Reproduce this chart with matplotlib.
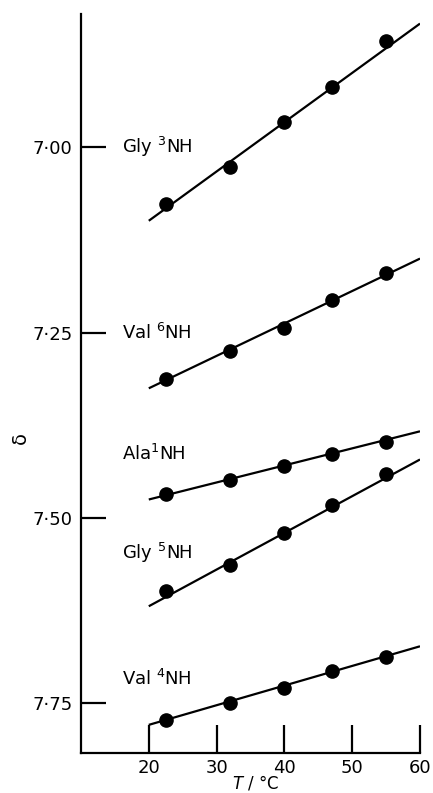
import numpy as np
import matplotlib.pyplot as plt

# temperatures (deg C) of the measured points
temps = [22.5, 32, 40, 47, 55]

# chemical shifts
gly3 = [7.077, 7.026, 6.966, 6.918, 6.857]
val6 = [7.313, 7.275, 7.243, 7.206, 7.170]
ala1 = [7.468, 7.449, 7.430, 7.413, 7.397]
gly5 = [7.599, 7.563, 7.520, 7.483, 7.441]
val4 = [7.772, 7.750, 7.729, 7.706, 7.687]

# fitted lines: shift at T=20 and T=60
line_t = [20, 60]
gly3_fit = [7.099, 6.833]
val6_fit = [7.325, 7.150]
ala1_fit = [7.475, 7.383]
gly5_fit = [7.619, 7.421]
val4_fit = [7.779, 7.673]

names = ['Gly $^{3}$NH', 'Val $^{6}$NH', 'Ala$^{1}$NH', 'Gly $^{5}$NH', 'Val $^{4}$NH']
label_y = [7.00, 7.25, 7.413, 7.547, 7.717]

yticks = [7.00, 7.25, 7.50, 7.75]
ytick_labels = ['7·00', '7·25', '7·50', '7·75']
xticks = [20, 30, 40, 50, 60]

plt.rcParams['font.family'] = ['DejaVu Sans']
plt.rcParams['mathtext.default'] = 'regular'

fig = plt.figure(figsize=(4.33, 7.93), dpi=100)
ax = fig.add_axes([0.187, 0.0504, 0.783, 0.932])

series = [gly3, val6, ala1, gly5, val4]
fits = [gly3_fit, val6_fit, ala1_fit, gly5_fit, val4_fit]
for s, f in zip(series, fits):
    ax.plot(line_t, f, color='black', lw=1.6, solid_capstyle='butt')
    ax.plot(temps, s, 'o', color='black', ms=9.5)

for name, yy in zip(names, label_y):
    ax.text(16, yy, name, fontsize=13, va='center', ha='left')

ax.set_xlim(10, 60)
ax.set_ylim(7.817, 6.82)
ax.spines['top'].set_visible(False)
ax.spines['right'].set_visible(False)
ax.spines['left'].set_linewidth(1.6)
ax.spines['bottom'].set_linewidth(1.6)

ax.set_yticks(yticks)
ax.set_yticklabels(ytick_labels, fontsize=13)
ax.set_xticks(xticks)
ax.set_xticklabels([str(t) for t in xticks], fontsize=13)
ax.tick_params(axis='y', direction='in', length=18, width=1.6, pad=6)
ax.tick_params(axis='x', direction='in', length=20, width=1.6, pad=4)

fig.text(0.59, 0.001, '$\\mathit{T}$ / °C', fontsize=12, ha='center', va='bottom')
fig.text(0.046, 0.448, 'δ', fontsize=14, rotation=90, ha='center', va='center')

fig.savefig('out.png', dpi=100)
